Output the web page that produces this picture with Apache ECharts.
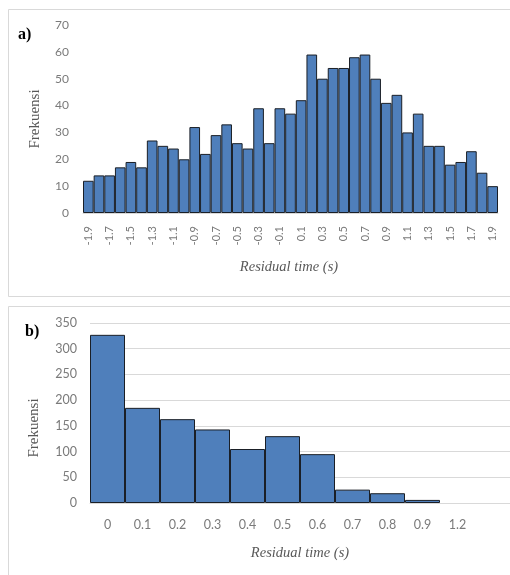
<!DOCTYPE html>
<html>
<head>
<meta charset="utf-8">
<script src="https://cdn.jsdelivr.net/npm/echarts@6/dist/echarts.min.js"></script>
<style>html,body{margin:0;padding:0;background:#fff}#c{width:510px;height:575px}</style>
</head>
<body>
<div id="c"></div>
<script>
const catsA = ['-1.9','-1.8','-1.7','-1.6','-1.5','-1.4','-1.3','-1.2','-1.1','-1','-0.9','-0.8','-0.7','-0.6','-0.5','-0.4','-0.3','-0.2','-0.1','0','0.1','0.2','0.3','0.4','0.5','0.6','0.7','0.8','0.9','1','1.1','1.2','1.3','1.4','1.5','1.6','1.7','1.8','1.9'];
const valuesA = [12,14,14,17,19,17,27,25,24,20,32,22,29,33,26,24,39,26,39,37,42,59,50,54,54,58,59,50,41,44,30,37,25,25,18,19,23,15,10];
const catsB = ['0','0.1','0.2','0.3','0.4','0.5','0.6','0.7','0.8','0.9','1.2',''];
const valuesB = [327,185,163,143,105,130,95,26,19,6,null,null];
const yTicksA = {min:0, max:70, interval:10};
const yTicksB = {min:0, max:350, interval:50};

const chart = echarts.init(document.getElementById('c'), null, {renderer:'canvas'});
const labelColor = '#7a7a7a';
const titleColor = '#595959';
const barStyle = {color:'#4F7FBB', borderColor:'#1a1f26', borderWidth:1};
chart.setOption({
  animation:false,
  backgroundColor:'#fff',
  grid:[
    {left:83, top:25, width:415, height:188},
    {left:90, top:323, width:420, height:180}
  ],
  xAxis:[
    {type:'category', gridIndex:0, data:catsA,
     axisTick:{show:false}, axisLine:{lineStyle:{color:'#d9d9d9'}},
     axisLabel:{rotate:90, interval:1, margin:13, color:labelColor, fontSize:11, fontFamily:'Lato'}},
    {type:'category', gridIndex:1, data:catsB,
     axisTick:{show:false}, axisLine:{lineStyle:{color:'#d9d9d9'}},
     axisLabel:{interval:0, margin:15, color:labelColor, fontSize:12.5, fontFamily:'Lato'}}
  ],
  yAxis:[
    {type:'value', gridIndex:0, min:yTicksA.min, max:yTicksA.max, interval:yTicksA.interval,
     splitLine:{show:false}, axisLine:{show:false}, axisTick:{show:false},
     axisLabel:{margin:14, color:labelColor, fontSize:12, fontFamily:'Lato'}},
    {type:'value', gridIndex:1, min:yTicksB.min, max:yTicksB.max, interval:yTicksB.interval,
     splitLine:{lineStyle:{color:'#d9d9d9'}}, axisLine:{show:false}, axisTick:{show:false},
     axisLabel:{margin:13, color:labelColor, fontSize:12.5, fontFamily:'Lato'}}
  ],
  series:[
    {type:'bar', xAxisIndex:0, yAxisIndex:0, data:valuesA, barCategoryGap:'0%', itemStyle:barStyle},
    {type:'bar', xAxisIndex:1, yAxisIndex:1, data:valuesB, barCategoryGap:'0%', itemStyle:barStyle}
  ],
  graphic:[
    {type:'rect', shape:{x:8.5, y:9.5, width:540, height:287}, style:{fill:null, stroke:'#d9d9d9', lineWidth:1}, silent:true},
    {type:'rect', shape:{x:8.5, y:306.5, width:540, height:300}, style:{fill:null, stroke:'#d9d9d9', lineWidth:1}, silent:true},
    {type:'text', x:18, y:35, style:{text:'a)', fill:'#000', font:'bold 16px "Liberation Serif"', textVerticalAlign:'middle'}},
    {type:'text', x:25, y:332, style:{text:'b)', fill:'#000', font:'bold 16px "Liberation Serif"', textVerticalAlign:'middle'}},
    {type:'text', x:35, y:119, rotation:Math.PI/2, style:{text:'Frekuensi', fill:titleColor, font:'15px "Liberation Serif"', textAlign:'center', textVerticalAlign:'middle'}},
    {type:'text', x:34, y:428, rotation:Math.PI/2, style:{text:'Frekuensi', fill:titleColor, font:'15px "Liberation Serif"', textAlign:'center', textVerticalAlign:'middle'}},
    {type:'text', x:289, y:267, style:{text:'Residual time (s)', fill:titleColor, font:'italic 14.5px "Liberation Serif"', textAlign:'center', textVerticalAlign:'middle'}},
    {type:'text', x:300, y:553, style:{text:'Residual time (s)', fill:titleColor, font:'italic 14.5px "Liberation Serif"', textAlign:'center', textVerticalAlign:'middle'}}
  ]
});
</script>
</body>
</html>
